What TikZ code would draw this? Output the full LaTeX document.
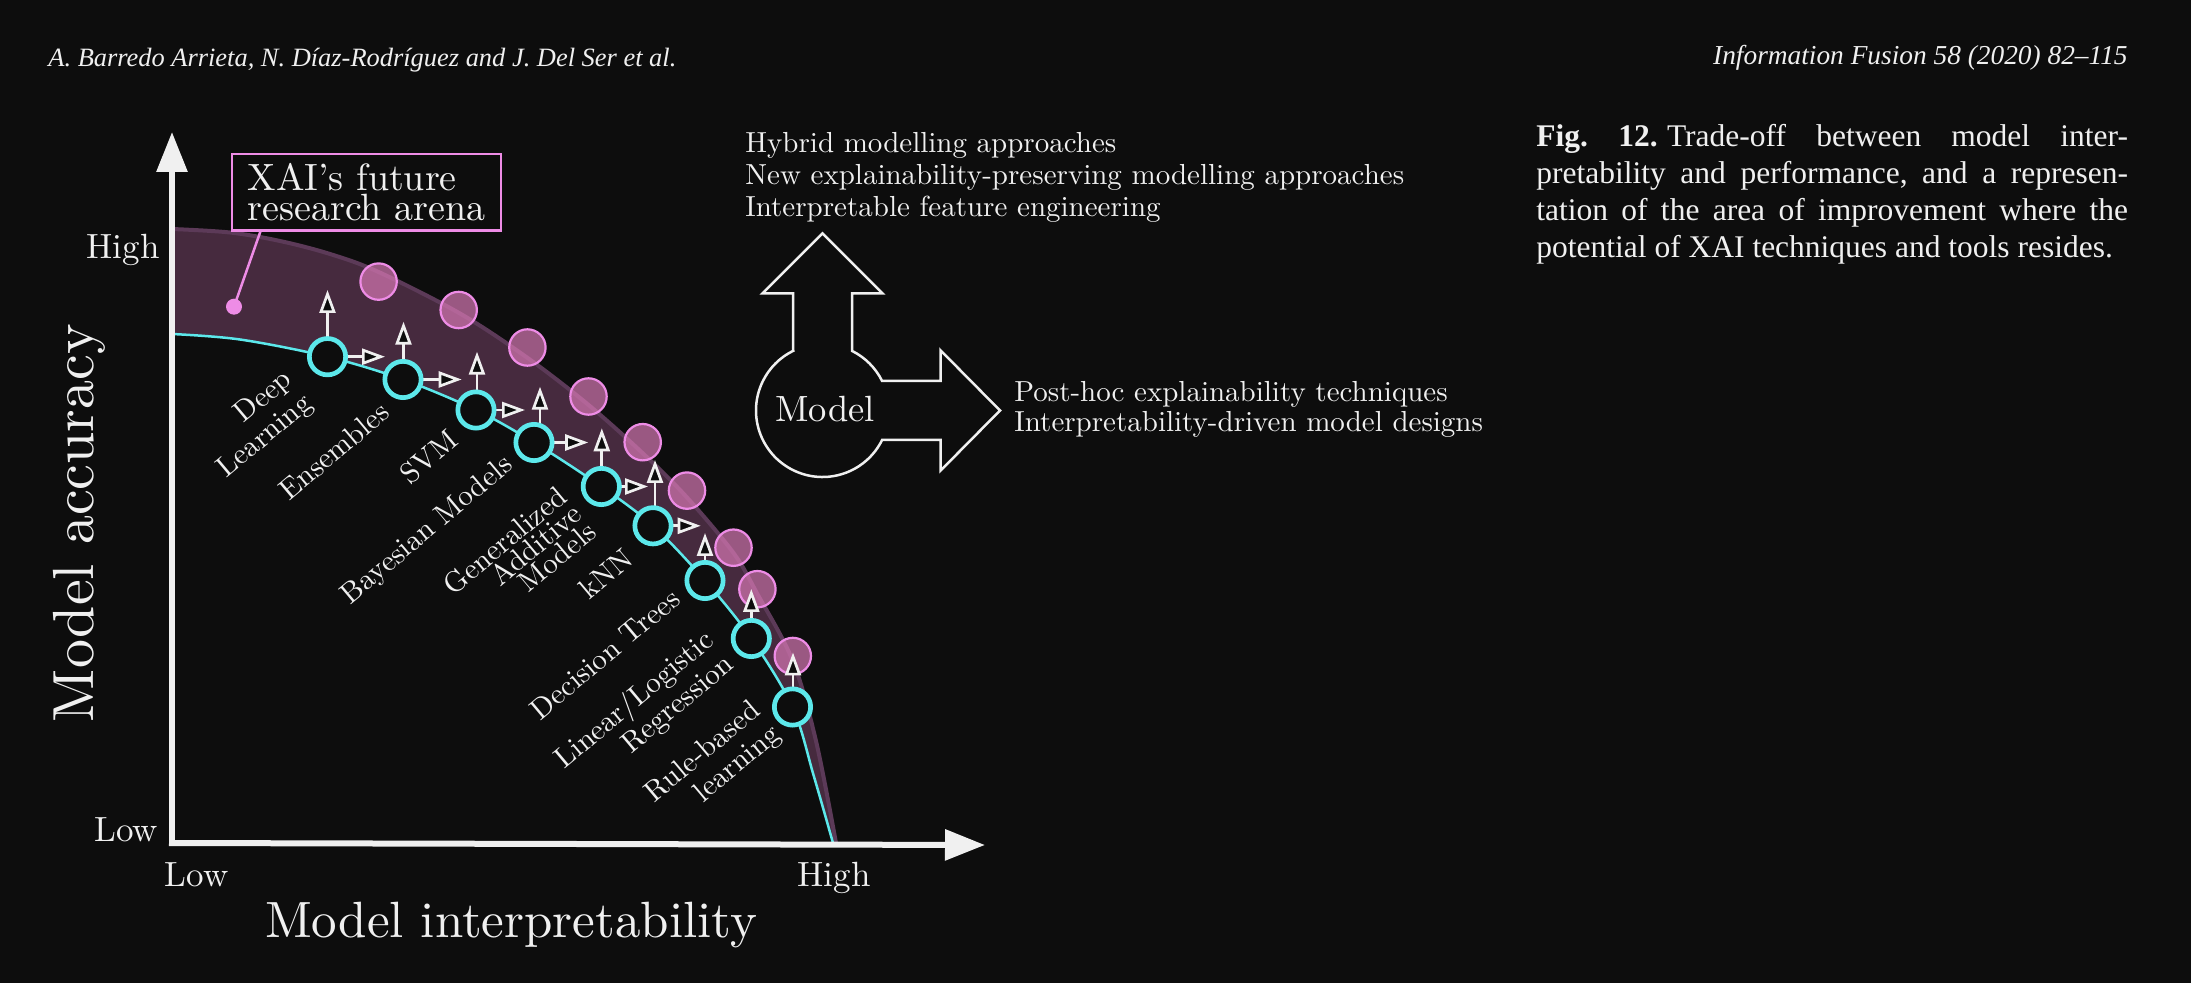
\documentclass[tikz,border=0pt]{standalone}
\usepackage{graphicx}
\usepackage{fontspec}
\setmainfont{lmroman10-regular.otf}[BoldFont=lmroman10-bold.otf,ItalicFont=lmroman10-italic.otf]
\newfontfamily\elsf{Liberation Serif}
\usetikzlibrary{arrows.meta,calc}
\definecolor{bgc}{RGB}{13,13,13}
\definecolor{fg}{RGB}{240,240,240}
\definecolor{cyanc}{RGB}{92,232,235}
\definecolor{pinkl}{RGB}{238,140,230}
\definecolor{pinkf}{RGB}{215,120,180}
\definecolor{bandc}{RGB}{70,42,62}
\definecolor{bande}{RGB}{92,58,88}
\tikzset{
  ring/.style={circle, draw=cyanc, line width=2.35pt, fill=bgc, minimum size=18.15pt, inner sep=0pt},
  pdisk/.style={circle, draw=pinkl, line width=1.1pt, fill=pinkf, fill opacity=0.7, minimum size=18.2pt, inner sep=0pt},
  sarr/.style={draw=fg, line width=1.35pt, -{Triangle[length=11.5pt,width=8pt,fill=bgc]}},
  axisline/.style={draw=fg, line width=3pt, -{Triangle[length=20pt,width=15pt]}},
  lbl/.style={text=fg, font=\fontsize{14.65pt}{15.5pt}\selectfont, rotate=40, align=right, inner sep=0pt},
  tick/.style={text=fg, font=\fontsize{17.5pt}{20pt}\selectfont, inner sep=0pt},
  plain/.style={text=fg, font=\fontsize{14.5pt}{16pt}\selectfont, inner sep=0pt, anchor=base west},
  captxt/.style={text=fg, font=\elsf\fontsize{15.75pt}{18.5pt}\selectfont, inner sep=0pt, anchor=base west},
  callout/.style={draw=pinkl, line width=1.25pt, text=fg, align=left, inner sep=0pt,
    minimum width=134.5pt, minimum height=38.35pt, font=\fontsize{19pt}{15pt}\selectfont}
}
\begin{document}
\begin{tikzpicture}[x=0.5pt, y=-0.5pt]
\useasboundingbox (0,0) rectangle (2191,983);
\fill[bgc] (0,0) rectangle (2191,983);

% header
\node[anchor=base west, inner sep=0pt, text=fg] (hleft) at (48,66.5)
  {\resizebox{314pt}{!}{\elsf\itshape A. Barredo Arrieta, N. Díaz-Rodríguez and J. Del Ser et al.}};
\node[anchor=base east, inner sep=0pt, text=fg] (hright) at (2128,65)
  {\resizebox{207.2pt}{!}{\elsf\itshape Information Fusion 58 (2020) 82–115}};

% caption
\node[captxt] (cap1) at (1536,147) {\makebox[295.8pt][s]{\textbf{Fig.\ 12.}\kern0.3em Trade-off\ between\ model\ inter-}};
\node[captxt] (cap2) at (1536,184) {\makebox[295.8pt][s]{pretability and performance,\ and a represen-}};
\node[captxt] (cap3) at (1536,221) {\makebox[295.8pt][s]{tation of the area of improvement where the}};
\node[captxt] (cap4) at (1536,258) {potential of XAI techniques and tools resides.};

% band between curves
\fill[bandc] plot[smooth, tension=0.55] coordinates {(172,228) (230,231.5) (280,240) (330,253) (378.6,271) (460,312) (527,356) (588,403) (643,452) (687,496) (733.5,552) (757.4,593) (792.8,660) (816,740) (836,843)}
  -- plot[smooth, tension=0.55] coordinates {(833,843) (813.5,775) (792.5,707) (751.3,638.5) (705,580.5) (653,525.8) (601.3,486.5) (534,442.5) (476,410) (403,379.5) (327.5,356.7) (240,339.5) (172,334)} -- cycle;
\draw[bande, line width=2pt] plot[smooth, tension=0.55] coordinates {(172,229) (230,232.5) (280,241) (330,254) (378.6,272) (460,313.5) (527,357.5) (588,404.5) (643,453.5) (687,497.5) (733.5,553) (757.4,594) (792.8,661) (816,741) (836,843)};
\draw[cyanc, line width=1.25pt] plot[smooth, tension=0.55] coordinates {(172,334) (240,339.5) (327.5,356.7) (403,379.5) (476,410) (534,442.5) (601.3,486.5) (653,525.8) (705,580.5) (751.3,638.5) (792.5,707) (813.5,775) (833,843)};

% axes
\coordinate (O) at (172,843);
\coordinate (Ob) at (172,846);
\coordinate (Ol) at (169,843);
\coordinate (Ytip) at (172,132);
\coordinate (Xtip) at (985,845);
\draw[axisline] (Ob) -- (Ytip);
\draw[axisline] (Ol) -- (Xtip);

\node[tick, anchor=base east] (yhigh) at (160,258.5) {High};
\node[tick, anchor=base east] (ylow) at (158.3,841.5) {Low};
\node[tick, anchor=base west] (xlow) at (164.5,886.5) {Low};
\node[tick, anchor=base] (xhigh) at (834,886.7) {High};
\node[text=fg, font=\fontsize{25.5pt}{30pt}\selectfont, anchor=base west, inner sep=0pt] (xlab) at (264.7,937.3) {Model interpretability};
\node[text=fg, font=\fontsize{29pt}{32pt}\selectfont, rotate=90, anchor=base, inner sep=0pt] (ylab) at (93,523) {Model accuracy};

% callout
\node[callout] (box) at (366.5,192.3) {XAI's future\\research arena};
\node[circle, fill=pinkl, minimum size=8pt, inner sep=0pt] (pdot) at (234,306.7) {};
\coordinate (boxfoot) at (260.7,230.7);
\draw[pinkl, line width=1.25pt] (pdot.center) -- (boxfoot);

% pink disks
\foreach \i/\x/\y in {1/378.6/281.6, 2/458.7/310, 3/527.4/347.5, 4/588.5/396.5, 5/642.7/442.2, 6/687/490.6, 7/733.5/547.7, 8/757.4/589.2, 9/792.8/656}
  \node[pdisk] (p\i) at (\x,\y) {};

% ring centres and arrows
\foreach \i/\cx/\cy/\ux/\uy in {1/327.5/356.7/327.5/290, 2/403/379.5/403.5/321.7, 3/476/410/477/351.7, 4/534/442.5/540/386.7, 5/601.3/486.5/601.8/428.3, 6/653/525.8/655/460, 7/705/580.5/705/533, 8/751.3/638.5/751.3/589, 9/792.5/707/793/652.5}{
  \coordinate (c\i) at (\cx,\cy);
  \coordinate (u\i) at (\ux,\uy);
  \draw[sarr] ($(c\i -| u\i)+(0,-12)$) -- (u\i);
}
\foreach \i/\rx in {1/385, 2/461.7, 3/525, 4/588.2, 5/648, 6/700.7}{
  \coordinate (w\i) at (\rx,0);
  \draw[sarr] ($(c\i)+(12,0)$) -- (c\i -| w\i);
}
\foreach \i in {1,...,9}
  \node[ring] (r\i) at (c\i) {};

% ring labels
\node[lbl] (l1) at (255.7,425.2) {Deep\\Learning};
\node[lbl] (l2) at (334,450.8) {Ensembles};
\node[lbl] (l3) at (428.6,456.7) {SVM};
\node[lbl] (l4) at (427.7,530.8) {Bayesian Models};
\node[lbl, font=\fontsize{14.65pt}{11.5pt}\selectfont] (l5) at (519.6,557.9) {Generalized\\Additive\\Models};
\node[lbl] (l6) at (605.7,573.3) {kNN};
\node[lbl] (l7) at (604.8,654.2) {Decision Trees};
\node[lbl] (l8) at (644.9,712.3) {Linear/Logistic\\Regression};
\node[lbl] (l9) at (713.8,764.8) {Rule-based\\learning};

% model shape
\draw[fg, line width=1.25pt, line join=miter] (793,350.9) -- (793,293.3) -- (762.5,293.3) -- (822.5,233.3) -- (882.5,293.3) -- (852,293.3) -- (852,350.9)
  arc[start angle=63.67, end angle=26.33, radius=33.25pt] -- (940.7,381) -- (940.7,350.5) -- (1000,410.5) -- (940.7,470.5) -- (940.7,440) -- (882.1,440)
  arc[start angle=-26.33, end angle=-243.67, radius=33.25pt] -- cycle;
\node[text=fg, font=\fontsize{18.25pt}{20pt}\selectfont, inner sep=0pt] (model) at (825,409.3) {Model};

\node[plain] (t1) at (745,153) {Hybrid modelling approaches};
\node[plain] (t2) at (745,185) {New explainability-preserving modelling approaches};
\node[plain] (t3) at (745,217) {Interpretable feature engineering};
\node[plain] (t4) at (1014,401.7) {Post-hoc explainability techniques};
\node[plain] (t5) at (1014,431.7) {Interpretability-driven model designs};
\end{tikzpicture}
\end{document}
